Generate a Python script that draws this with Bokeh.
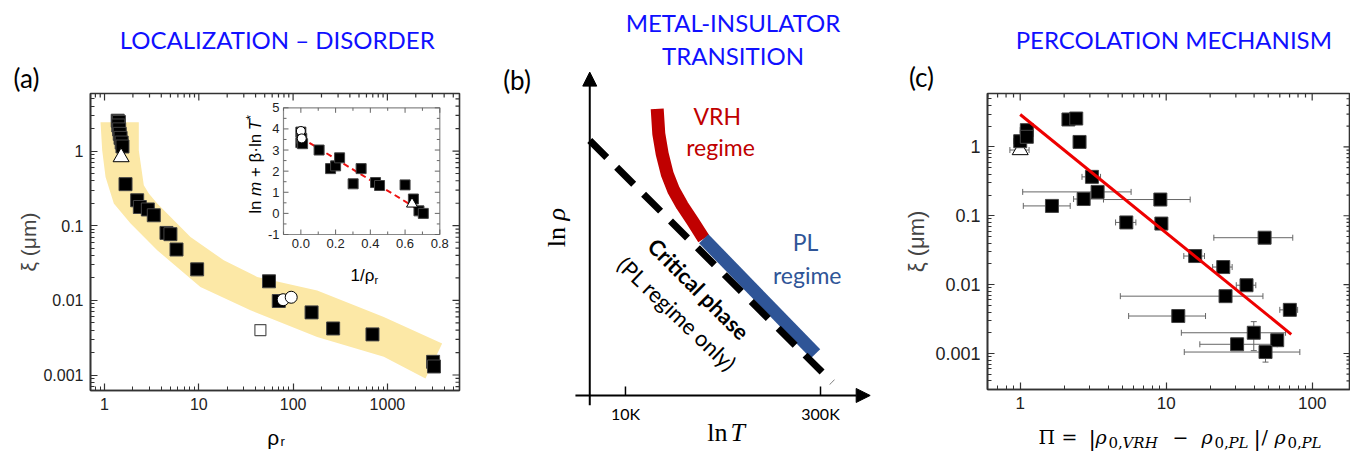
import numpy as np
from bokeh.plotting import figure
from bokeh.layouts import row, column
from bokeh.models import (Range1d, LinearScale, FixedTicker, Label,
                          Whisker, TeeHead, Arrow, NormalHead, ColumnDataSource)
from bokeh.core.properties import value
from bokeh.embed import file_html
from bokeh.resources import INLINE

# ---------------- panel (a) data ----------------
a_rho = [1.38, 1.42, 1.40, 1.43, 1.45, 1.48, 1.52, 1.55, 1.67, 2.22, 2.37, 2.88, 3.33,
         4.54, 5.0, 5.8, 9.6, 55.5, 70.5, 157, 266, 695, 3055, 3120]
a_xi = [2.55, 2.45, 2.2, 1.95, 1.7, 1.5, 1.3, 1.15, 0.36, 0.219, 0.178, 0.165, 0.138,
        0.080, 0.077, 0.048, 0.026, 0.018, 0.0098, 0.0069, 0.0042, 0.0035, 0.0015, 0.0013]
a_tri_rho = [1.5]
a_tri_xi = [0.83]
a_circ_rho = [78.5, 95.5]
a_circ_xi = [0.0102, 0.011]
a_osq_rho = [45]
a_osq_xi = [0.004]
band_upper_rho = [2.31, 2.31, 2.61, 2.95, 3.62, 8.16, 18.4, 41.6, 180, 916, 3810]
band_upper_xi = [2.44, 1.02, 0.347, 0.269, 0.198, 0.0706, 0.0344, 0.0206, 0.0136, 0.006, 0.00264]
band_lower_rho = [0.907, 0.945, 1.025, 1.255, 1.89, 3.62, 10.4, 35.3, 180, 916, 2535]
band_lower_xi = [2.44, 1.02, 0.449, 0.198, 0.107, 0.0469, 0.0151, 0.00737, 0.00324, 0.00175, 0.000897]
a_xticks = [1, 10, 100, 1000]
a_xtick_labels = ["1", "10", "100", "1000"]
a_yticks = [0.001, 0.01, 0.1, 1]
a_ytick_labels = ["0.001", "0.01", "0.1", "1"]

# inset of (a)
ins_x = [0.0, 0.0, 0.005, 0.01, 0.105, 0.171, 0.2, 0.223, 0.301, 0.347, 0.43, 0.453, 0.60, 0.648, 0.68, 0.705]
ins_y = [3.85, 3.35, 3.55, 3.3, 3.0, 2.12, 2.25, 2.63, 1.4, 2.12, 1.46, 1.32, 1.35, 0.68, 0.12, 0.0]
ins_err = [0.55, 0.5, 0.5, 0.5, 0.45, 0.45, 0.45, 0.5, 0.45, 0.4, 0.55, 0.5, 0.45, 0.55, 0.45, 0.45]
ins_circ_x = [0.0, 0.005]
ins_circ_y = [3.9, 3.55]
ins_tri_x = [0.64]
ins_tri_y = [0.45]
ins_fit_x = [0.0, 0.705]
ins_fit_y = [3.59, 0.04]
ins_xticks = [0.0, 0.2, 0.4, 0.6, 0.8]
ins_xtick_labels = ["0.0", "0.2", "0.4", "0.6", "0.8"]
ins_yticks = [-1, 0, 1, 2, 3, 4, 5]
ins_ytick_labels = ["-1", "0", "1", "2", "3", "4", "5"]

# ---------------- panel (b) schematic (x = ln T/K, y = ln rho, arb.) ----------------
b_tick_T = [10, 300]
b_tick_labels = ["10K", "300K"]
b_vrh_lnT = [2.856, 2.884, 2.943, 3.030, 3.145, 3.292, 3.466, 3.668]
b_vrh_lnrho = [5.000, 4.564, 4.215, 3.867, 3.575, 3.314, 3.052, 2.733]
b_pl_lnT = [3.668, 5.617]
b_pl_lnrho = [2.733, 0.727]
b_crit_lnT = [1.68, 5.908]
b_crit_lnrho = [4.447, 0.232]

# ---------------- panel (c) data ----------------
c_pi = [1.0, 1.11, 1.11, 2.14, 2.42, 2.55, 3.1, 3.39, 2.72, 1.65, 9.12, 5.33, 9.27, 47.2,
        15.8, 24.6, 35.5, 25.5, 12.1, 70.3, 39.8, 57.6, 30.6, 47.9]
c_xi = [1.21, 1.75, 1.40, 2.5, 2.58, 1.18, 0.367, 0.222, 0.175, 0.139, 0.172, 0.08, 0.077, 0.048,
        0.026, 0.018, 0.0098, 0.0068, 0.0035, 0.0043, 0.002, 0.00156, 0.00136, 0.00105]
c_pi_lo = [0.9, 1.0, 1.11, 2.14, 2.42, 2.55, 2.65, 1.04, 2.32, 1.05, 3.72, 4.5, 9.27, 21.2,
           13.2, 20.8, 30.2, 4.85, 5.53, 60, 12.7, 57.6, 17.0, 13.3]
c_pi_hi = [1.1, 1.22, 1.11, 2.14, 2.42, 2.55, 3.55, 5.75, 3.72, 2.2, 14.6, 6.2, 9.27, 73.6,
           18.3, 28.3, 41.1, 46.0, 18.6, 79.5, 65.7, 57.6, 57.6, 82.3]
c_yerr_pi = [39.8, 47.9]
c_yerr_lo = [0.0011, 0.00075]
c_yerr_hi = [0.0029, 0.0013]
c_tri_pi = [1.0]
c_tri_xi = [0.9]
c_tri_lo = [0.85]
c_tri_hi = [1.15]
c_fit_pi = [1.0, 71.9]
c_fit_xi = [2.95, 0.0019]
c_xticks = [1, 10, 100]
c_xtick_labels = ["1", "10", "100"]
c_yticks = [0.001, 0.01, 0.1, 1]
c_ytick_labels = ["0.001", "0.01", "0.1", "1"]

TITLE_BLUE = "#1010ff"
AX = "#333333"
COMMON = dict(output_backend="svg", toolbar_location=None, frame_align=False, title=None)


def log_minor(e0, e1):
    return [m * 10.0 ** e for e in range(e0, e1 + 1) for m in range(2, 10)]


def style_axis(ax, ticks, labels, minor, size):
    ax.ticker = FixedTicker(ticks=ticks, minor_ticks=minor)
    ax.major_label_overrides = {t: l for t, l in zip(ticks, labels)}
    ax.axis_line_color = AX
    ax.axis_line_width = 1.6
    ax.major_tick_in = 7
    ax.major_tick_out = 0
    ax.minor_tick_in = 4
    ax.minor_tick_out = 0
    ax.major_tick_line_color = AX
    ax.minor_tick_line_color = AX
    ax.major_tick_line_width = 1.2
    ax.major_label_text_font = "Liberation Sans"
    ax.major_label_text_font_size = size
    ax.major_label_text_color = "#222222"
    ax.major_label_standoff = 7


def mirror_ticks(p, xmaj, xmin, ymaj, ymin):
    """inward ticks on the top and right frame edges"""
    xr, yr = p.x_range, p.y_range
    for xs, ln in ((xmaj, 7), (xmin, 4)):
        p.ray(x=xs, y=[yr.end] * len(xs), length=ln, length_units="screen",
              angle=-np.pi / 2, line_color=AX, line_width=1.2)
    for ys, ln in ((ymaj, 7), (ymin, 4)):
        p.ray(x=[xr.end] * len(ys), y=ys, length=ln, length_units="screen",
              angle=np.pi, line_color=AX, line_width=1.2)


def lab(p, x, y, text, size, font="Lato", color="black", align="center",
        baseline="middle", angle=0.0, style="normal"):
    p.add_layout(Label(x=x, y=y, x_units="data", y_units="data", text=text,
                       text_font=font, text_font_size=f"{size}px", text_color=color,
                       text_align=align, text_baseline=baseline, angle=angle,
                       text_font_style=style))


def text_strip(x0, x1, y0, y1):
    """a blank strip whose data coordinates are the page pixels (y grows downwards)"""
    f = figure(width=int(x1 - x0), height=int(y1 - y0), x_range=Range1d(x0, x1),
               y_range=Range1d(y1, y0), x_axis_type=None, y_axis_type=None,
               min_border_left=0, min_border_right=0, min_border_top=0,
               min_border_bottom=0, **COMMON)
    f.grid.visible = False
    f.outline_line_color = None
    return f


# ======================= panel (a) =======================
A_W, A_H, A_L, A_R, A_T, A_B = 490, 324, 90, 31, 1, 26
fw, fh = A_W - A_L - A_R, A_H - A_T - A_B
# inset box in frame pixels (from frame left / frame top)
iL, iR, iT, iB = 193.0, 349.3, 14.3, 141.0
upx = (0.8 - (-0.1)) / (iR - iL)
upy = (5 - (-1)) / (iB - iT)
ix_range = Range1d(-0.1 - iL * upx, 0.8 + (fw - iR) * upx)
iy_range = Range1d(-1 - (fh - iB) * upy, 5 + iT * upy)

pa = figure(width=A_W, height=A_H, x_axis_type="log", y_axis_type="log",
            x_range=Range1d(0.71, 5820), y_range=Range1d(6.2e-4, 5.9),
            min_border_left=A_L, min_border_right=A_R, min_border_top=A_T,
            min_border_bottom=A_B,
            extra_x_ranges={"ix": ix_range}, extra_y_ranges={"iy": iy_range},
            extra_x_scales={"ix": LinearScale()}, extra_y_scales={"iy": LinearScale()},
            **COMMON)
pa.grid.visible = False
pa.outline_line_color = AX
pa.outline_line_width = 1.6
xmin_a = log_minor(-1, 3)
ymin_a = log_minor(-4, 0)
style_axis(pa.below[0], a_xticks, a_xtick_labels, xmin_a, "16px")
style_axis(pa.left[0], a_yticks, a_ytick_labels, ymin_a, "16px")
pa.left[0].axis_label = "ξ (μm)"
pa.left[0].axis_label_text_font = "Liberation Sans"
pa.left[0].axis_label_text_font_size = "21px"
pa.left[0].axis_label_text_font_style = "normal"
pa.left[0].axis_label_text_baseline = "middle"
pa.left[0].axis_label_standoff = 0

band_x = band_upper_rho + band_lower_rho[::-1]
band_y = band_upper_xi + band_lower_xi[::-1]
pa.patch(band_x, band_y, fill_color="#fce8a6", line_color=None)
mirror_ticks(pa, a_xticks, xmin_a, a_yticks, ymin_a)

pa.scatter(a_osq_rho, a_osq_xi, marker="square", size=11, fill_color="white",
           line_color="#555555", line_width=1.2)
pa.scatter(a_rho, a_xi, marker="square", size=13, fill_color="black", line_color="#444444")
pa.scatter(a_circ_rho, a_circ_xi, marker="circle", size=12, fill_color="white",
           line_color="black", line_width=1)
pa.scatter(a_tri_rho, a_tri_xi, marker="triangle", size=16, fill_color="white",
           line_color="black", line_width=1)

# inset
pa.quad(left=[-0.1], right=[0.8], bottom=[-1], top=[5], fill_color="white",
        line_color="#888888", line_width=1.2, x_range_name="ix", y_range_name="iy")
ins_xminor = [-0.1, 0.1, 0.3, 0.5, 0.7]
ins_yminor = [-0.5, 0.5, 1.5, 2.5, 3.5, 4.5]
for xs, ln in ((ins_xticks, 5), (ins_xminor, 3)):
    pa.ray(x=xs, y=[-1] * len(xs), length=ln, length_units="screen", angle=np.pi / 2,
           line_color="#666666", x_range_name="ix", y_range_name="iy")
    pa.ray(x=xs, y=[5] * len(xs), length=ln, length_units="screen", angle=-np.pi / 2,
           line_color="#666666", x_range_name="ix", y_range_name="iy")
for ys, ln in ((ins_yticks, 5), (ins_yminor, 3)):
    pa.ray(x=[-0.1] * len(ys), y=ys, length=ln, length_units="screen", angle=0,
           line_color="#666666", x_range_name="ix", y_range_name="iy")
    pa.ray(x=[0.8] * len(ys), y=ys, length=ln, length_units="screen", angle=np.pi,
           line_color="#666666", x_range_name="ix", y_range_name="iy")
pa.text(x=ins_xticks, y=[-1] * len(ins_xticks), text=ins_xtick_labels,
        x_range_name="ix", y_range_name="iy", text_align="center", text_baseline="top",
        y_offset=4, text_font=value("Liberation Sans"), text_font_size="13px",
        text_color="#222222")
pa.text(x=[-0.1] * len(ins_yticks), y=ins_yticks, text=ins_ytick_labels,
        x_range_name="ix", y_range_name="iy", text_align="right", text_baseline="middle",
        x_offset=-4, text_font=value("Liberation Sans"), text_font_size="13px",
        text_color="#222222")
ins_src = ColumnDataSource(dict(x=ins_x, lo=[y - e for y, e in zip(ins_y, ins_err)],
                                hi=[y + e for y, e in zip(ins_y, ins_err)]))
pa.add_layout(Whisker(source=ins_src, base="x", lower="lo", upper="hi", dimension="height",
                      line_color="#777777", line_width=1,
                      upper_head=TeeHead(size=4, line_color="#777777"),
                      lower_head=TeeHead(size=4, line_color="#777777"),
                      x_range_name="ix", y_range_name="iy"))
pa.line(ins_fit_x, ins_fit_y, line_color="#ee1111", line_width=2, line_dash="6 4",
        x_range_name="ix", y_range_name="iy")
pa.scatter(ins_x, ins_y, marker="square", size=10, fill_color="black", line_color="#444444",
           x_range_name="ix", y_range_name="iy")
pa.scatter(ins_circ_x, ins_circ_y, marker="circle", size=9, fill_color="white",
           line_color="black", x_range_name="ix", y_range_name="iy")
pa.scatter(ins_tri_x, ins_tri_y, marker="triangle", size=11, fill_color="white",
           line_color="black", x_range_name="ix", y_range_name="iy")


# inset labels, in screen units relative to the main frame (origin bottom-left)
def slab(p, x, y, text, size, align="left", baseline="alphabetic", angle=0.0, style="normal"):
    p.add_layout(Label(x=x, y=y, x_units="screen", y_units="screen", text=text,
                       text_font="Liberation Sans", text_font_size=f"{size}px",
                       text_color="black", text_align=align, text_baseline=baseline,
                       angle=angle, text_font_style=style))


slab(pa, 260, 115, "1/ρ", 17)
slab(pa, 284, 111, "r", 11)
# rotated inset y label, built from bottom to top
for txt, off, st in (("ln", 0.0, "normal"), ("m", 17.9, "italic"),
                     ("+ β·ln", 36.7, "normal"), ("T", 83.6, "italic")):
    slab(pa, 165, 176.7 + off, txt, 17, baseline="middle", angle=np.pi / 2, style=st)
slab(pa, 160, 176.7 + 94.0, "*", 12, baseline="middle", angle=np.pi / 2)

head_a = text_strip(0, 490, 0, 92)
lab(head_a, 276.7, 39.0, "LOCALIZATION – DISORDER", 24, color=TITLE_BLUE)
lab(head_a, 26, 77, "(a)", 26)
foot_a = text_strip(0, 490, 416, 451)
lab(foot_a, 266.7, 437, "ρ", 21, font="Liberation Sans", align="left", baseline="alphabetic")
lab(foot_a, 280, 441, "r", 13, font="Liberation Sans", align="left", baseline="alphabetic")

# ======================= panel (b) =======================
pb = figure(width=390, height=451, x_range=Range1d(-0.051, 6.75),
            y_range=Range1d(-0.977, 6.889), x_axis_type=None, y_axis_type=None,
            min_border_left=0, min_border_right=0, min_border_top=0, min_border_bottom=0,
            **COMMON)
pb.grid.visible = False
pb.outline_line_color = None
pb.add_layout(Arrow(end=NormalHead(size=14, fill_color="black", line_color="black"),
                    x_start=1.68, y_start=-0.17, x_end=1.68, y_end=5.64,
                    line_width=2, line_color="black"))
pb.add_layout(Arrow(end=NormalHead(size=14, fill_color="black", line_color="black"),
                    x_start=1.43, y_start=0, x_end=6.57, y_end=0,
                    line_width=2, line_color="black"))
pb.ray(x=list(np.log(b_tick_T)), y=[0, 0], length=9, length_units="screen",
       angle=np.pi / 2, line_color="black", line_width=1.5)
pb.line(b_vrh_lnT, b_vrh_lnrho, line_color="#c00000", line_width=13, line_join="round")
pb.line(b_pl_lnT, b_pl_lnrho, line_color="#2f5597", line_width=13)
pb.line(b_crit_lnT, b_crit_lnrho, line_color="black", line_width=7, line_dash="24 14")
for lt, tl in zip(b_tick_T, b_tick_labels):
    lab(pb, float(np.log(lt)), -0.31, tl, 16)
lab(pb, 3.728, -0.64, "ln", 26, font="Liberation Serif", align="left", baseline="alphabetic")
lab(pb, 4.134, -0.64, "T", 26, font="Liberation Serif", align="left",
    baseline="alphabetic", style="italic")
lab(pb, 1.095, 2.586, "ln", 26, font="Liberation Serif", align="left", angle=np.pi / 2)
lab(pb, 1.095, 3.052, "ρ", 26, font="Liberation Serif", align="left",
    angle=np.pi / 2, style="italic")
lab(pb, 3.902, 4.883, "VRH", 23, color="#c00000")
lab(pb, 3.96, 4.33, "regime", 23, color="#c00000")
lab(pb, 5.442, 2.674, "PL", 23, color="#2f5597")
lab(pb, 5.472, 2.093, "regime", 23, color="#2f5597")
lab(pb, 3.581, 1.861, "Critical phase", 22, style="bold", angle=-np.pi / 4)
lab(pb, 3.205, 1.425, "(PL regime only)", 22, angle=-0.76)
lab(pb, 4.178, 6.51, "METAL-INSULATOR", 24, color=TITLE_BLUE)
lab(pb, 4.178, 5.926, "TRANSITION", 24, color=TITLE_BLUE)
lab(pb, 0.411, 5.511, "(b)", 26)

# ======================= panel (c) =======================
pc = figure(width=470, height=324, x_axis_type="log", y_axis_type="log",
            x_range=Range1d(0.597, 183), y_range=Range1d(3.0e-4, 5.96),
            min_border_left=107, min_border_right=0, min_border_top=1,
            min_border_bottom=27, **COMMON)
pc.grid.visible = False
pc.outline_line_color = AX
pc.outline_line_width = 1.6
xmin_c = log_minor(-1, 2)
ymin_c = log_minor(-4, 0)
style_axis(pc.below[0], c_xticks, c_xtick_labels, xmin_c, "17px")
style_axis(pc.left[0], c_yticks, c_ytick_labels, ymin_c, "18px")
pc.left[0].axis_label = "ξ (μm)"
pc.left[0].axis_label_text_font = "Liberation Sans"
pc.left[0].axis_label_text_font_size = "22px"
pc.left[0].axis_label_text_font_style = "normal"
pc.left[0].axis_label_standoff = 3
mirror_ticks(pc, c_xticks, xmin_c, c_yticks, ymin_c)

keep = [i for i in range(len(c_pi)) if c_pi_hi[i] > c_pi_lo[i]]
xe_src = ColumnDataSource(dict(y=[c_xi[i] for i in keep] + c_tri_xi,
                               lo=[c_pi_lo[i] for i in keep] + c_tri_lo,
                               hi=[c_pi_hi[i] for i in keep] + c_tri_hi))
ye_src = ColumnDataSource(dict(x=c_yerr_pi, lo=c_yerr_lo, hi=c_yerr_hi))
EC = "#666666"
pc.add_layout(Whisker(source=xe_src, base="y", lower="lo", upper="hi", dimension="width",
                      line_color=EC, line_width=1,
                      upper_head=TeeHead(size=6, line_color=EC),
                      lower_head=TeeHead(size=6, line_color=EC)))
pc.add_layout(Whisker(source=ye_src, base="x", lower="lo", upper="hi", dimension="height",
                      line_color=EC, line_width=1,
                      upper_head=TeeHead(size=6, line_color=EC),
                      lower_head=TeeHead(size=6, line_color=EC)))
pc.scatter(c_tri_pi, c_tri_xi, marker="triangle", size=16, fill_color="white",
           line_color="black")
pc.scatter(c_pi, c_xi, marker="square", size=13, fill_color="black", line_color="#444444")
pc.line(c_fit_pi, c_fit_xi, line_color="#ee0000", line_width=3)

head_c = text_strip(880, 1350, 0, 92)
lab(head_c, 1173.3, 39.4, "PERCOLATION MECHANISM", 24, color=TITLE_BLUE)
lab(head_c, 921, 76, "(c)", 26)
foot_c = text_strip(880, 1350, 416, 451)
SER = "DejaVu Serif"
xlabel_parts = [  # (text, x, baseline y, size, style)
    ("Π", 1038, 436, 19, "normal"), ("=", 1061, 436, 19, "normal"),
    ("|", 1088, 439, 22, "normal"), ("ρ", 1095, 436, 19, "italic"),
    ("0,", 1108, 442, 15, "normal"), ("VRH", 1122, 442, 15, "italic"),
    ("−", 1172, 436, 19, "normal"), ("ρ", 1201, 436, 19, "italic"),
    ("0,", 1214, 442, 15, "normal"), ("PL", 1228, 442, 15, "italic"),
    ("|", 1253, 439, 22, "normal"), ("/", 1261, 436, 19, "normal"),
    ("ρ", 1274, 436, 19, "italic"), ("0,", 1287, 442, 15, "normal"),
    ("PL", 1301, 442, 15, "italic"),
]
for t, x, y, s, st in xlabel_parts:
    lab(foot_c, x, y, t, s, font=SER, align="left", baseline="alphabetic", style=st)

layout = row(column(head_a, pa, foot_a), pb, column(head_c, pc, foot_c))
open("out.html", "w").write(file_html(layout, INLINE))
